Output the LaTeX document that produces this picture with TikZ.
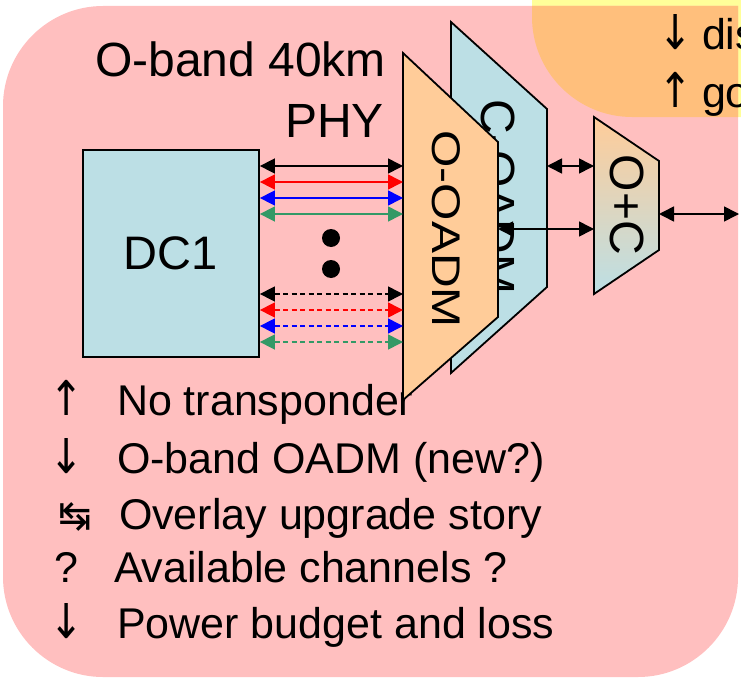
\documentclass[tikz,border=0pt]{standalone}
\usepackage{fontspec}
\setmainfont{Liberation Sans}
\newfontfamily\djv{DejaVu Sans}
\usetikzlibrary{arrows.meta}
\definecolor{pinkc}{HTML}{FFBFBF}
\definecolor{yelc}{HTML}{FFFF99}
\definecolor{orc}{HTML}{FFBF7C}
\definecolor{bluec}{HTML}{BCDFE5}
\definecolor{peachc}{HTML}{FFCC99}
\definecolor{greenc}{HTML}{339966}
\newcommand\symarrow[1]{\scalebox{0.85}[1]{\fontsize{48}{52}\djv #1}}
\tikzset{
  tip/.tip={Triangle[length=15pt,width=15pt]},
  dbl/.style={tip-tip, line width=1.6pt},
  dsh/.style={dbl, dash pattern=on 5pt off 3.5pt},
  shp/.style={draw=black, line width=1.8pt, line join=miter},
  fbig/.style={font=\fontsize{48}{52}\selectfont},
  flist/.style={font=\fontsize{43}{47}\selectfont},
  txt/.style={inner sep=0pt, outer sep=0pt},
  dotn/.style={circle, fill=black, inner sep=0pt, minimum size=18pt},
}
\begin{document}
\begin{tikzpicture}[x=1pt,y=-1pt]
\useasboundingbox (0,0) rectangle (741,677);
\clip (0,0) rectangle (741,677);
% background shapes
\fill[yelc] (532,-10) -- (532,17) .. controls (532,72) and (577,117) .. (632,117) -- (760,117) -- (760,-10) -- cycle;
\fill[pinkc] (3,106) .. controls (3,51) and (48,6) .. (103,6) -- (738,6) -- (738,577) .. controls (738,632) and (693,677) .. (638,677) -- (103,677) .. controls (48,677) and (3,632) .. (3,577) -- cycle;
\begin{scope}
\clip (3,106) .. controls (3,51) and (48,6) .. (103,6) -- (738,6) -- (738,577) .. controls (738,632) and (693,677) .. (638,677) -- (103,677) .. controls (48,677) and (3,632) .. (3,577) -- cycle;
\fill[orc] (532,-10) -- (532,17) .. controls (532,72) and (577,117) .. (632,117) -- (760,117) -- (760,-10) -- cycle;
\end{scope}
% texts in yellow area
\node[txt, anchor=base] (ya1) at (676,49) {\symarrow{↓}};
\node[txt, flist, anchor=base west] (y1) at (702,49) {dis};
\node[txt, anchor=base] (ya2) at (676,107) {\symarrow{↑}};
\node[txt, flist, anchor=base west] (y2) at (702,107) {go};
% header
\node[txt, fbig, anchor=base east] (h1) at (386,77) {O-band 40km};
\node[txt, fbig, anchor=base east] (h2) at (384,137) {PHY};
% list
\node[txt, anchor=base] (s1) at (67,415) {\symarrow{↑}};
\node[txt, flist, anchor=base west] (t1) at (117,415) {No transponder};
\node[txt, anchor=base] (s2) at (67,473) {\symarrow{↓}};
\node[txt, flist, anchor=base west] (t2) at (117,473) {O-band OADM (new?)};
\node[txt, font=\fontsize{40}{44}\djv, anchor=base] (s3) at (75,529) {↹};
\node[txt, flist, anchor=base west] (t3) at (119,529) {Overlay upgrade story};
\node[txt, flist, anchor=base] (s4) at (66,582) {?};
\node[txt, flist, anchor=base west] (t4) at (114,582) {Available channels ?};
\node[txt, anchor=base] (s5) at (67,638) {\symarrow{↓}};
\node[txt, flist, anchor=base west] (t5) at (117,638) {Power budget and loss};
% C-OADM
\draw[shp, fill=bluec] (451,22) -- (547,109) -- (547,287) -- (451,373) -- cycle;
\node[txt, fbig, rotate=-90] (ctext) at (498,197) {C-OADM};
% O-OADM
\draw[shp, fill=peachc] (403,53) -- (498,142) -- (498,317) -- (403,400) -- cycle;
\node[txt, rotate=-90] (otext) at (446,229) {\scalebox{1.2}[1]{\fontsize{40}{44}\selectfont O-OADM}};
% O+C
\draw[shp, top color=peachc, bottom color=bluec] (594,117) -- (659,161) -- (659,250) -- (594,294) -- cycle;
\node[txt, fbig, rotate=-90] (octext) at (627,205) {O+C};
% DC1
\node[shp, fill=bluec, minimum width=176pt, minimum height=207pt, inner sep=0pt, font=\fontsize{47}{50}\selectfont] (dc1) at (171,253.5) {DC1};
% named edge points
\coordinate (oW) at (403,0);
\coordinate (oE) at (498,229);
\coordinate (cE) at (547,166);
\coordinate (ocW1) at (594,166);
\coordinate (ocW2) at (594,229);
\coordinate (ocE) at (659,214);
\coordinate (outR) at (739,214);
% channel arrows
\foreach \yy/\cc in {166/black,182/red,198/blue,214/greenc}
  \draw[dbl, color=\cc] (dc1.east |- 0,\yy) -- (oW |- 0,\yy);
\foreach \yy/\cc in {294/black,310/red,326/blue,342/greenc}
  \draw[dsh, color=\cc] (dc1.east |- 0,\yy) -- (oW |- 0,\yy);
\node[dotn] (dot1) at (331,238) {};
\node[dotn] (dot2) at (331,269) {};
% mux arrows
\draw[dbl] (cE) -- (ocW1);
\draw[dbl] (oE) -- (ocW2);
\draw[dbl] (ocE) -- (outR);
\end{tikzpicture}
\end{document}
